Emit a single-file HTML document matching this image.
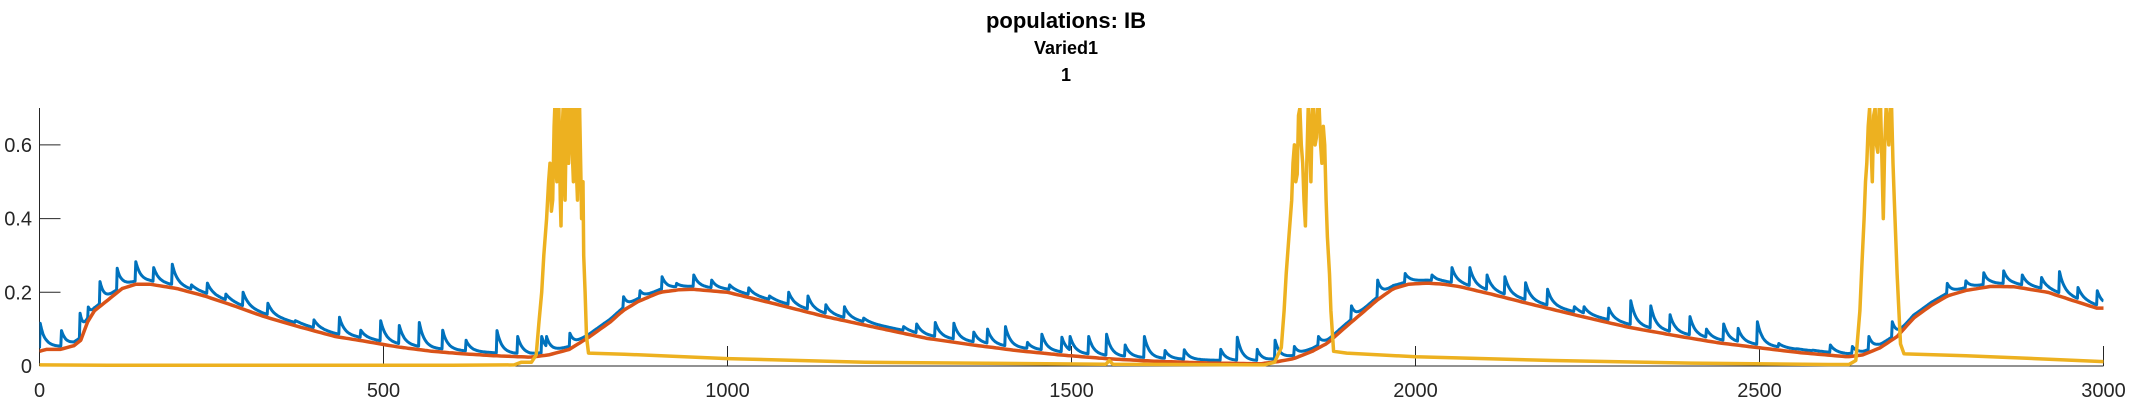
<!DOCTYPE html>
<html><head><meta charset="utf-8"><style>
html,body{margin:0;padding:0;background:#fff;}
svg{display:block;font-family:"Liberation Sans",sans-serif;}
</style></head><body>
<svg id="chart" width="2133" height="400" viewBox="0 0 2133 400">
<defs><clipPath id="plotClip"><rect x="39.5" y="108" width="2064" height="260"/></clipPath></defs>
<text x="1066" y="28" text-anchor="middle" font-size="22" font-weight="bold" fill="#000">populations: IB</text>
<text x="1066" y="54" text-anchor="middle" font-size="18" font-weight="bold" fill="#000">Varied1</text>
<text x="1066" y="81" text-anchor="middle" font-size="18" font-weight="bold" fill="#000">1</text>
<g id="axes"></g>
<g id="series" clip-path="url(#plotClip)"></g>
</svg>
<script>
const xTicks = [0, 500, 1000, 1500, 2000, 2500, 3000];
const xTickLabels = ["0", "500", "1000", "1500", "2000", "2500", "3000"];
const yTicks = [0, 0.2, 0.4, 0.6];
const yTickLabels = ["0", "0.2", "0.4", "0.6"];

const orangeT = [0,10,30,50,60,70,80,100,120,140,160,200,240,280,325,380,430,470,520,570,616,660,713,740,770,800,830,848,870,902,930,950,1000,1066,1140,1212,1290,1357,1420,1484,1550,1620,1700,1775,1800,1823,1850,1872,1895,1920,1945,1968,1990,2017,2040,2065,2110,2163,2240,2310,2385,2440,2497,2560,2628,2650,2676,2700,2724,2750,2773,2800,2836,2870,2919,2960,2990];
const orangeV = [0.04,0.045,0.045,0.055,0.07,0.12,0.15,0.18,0.21,0.222,0.222,0.21,0.19,0.165,0.135,0.105,0.08,0.068,0.052,0.04,0.033,0.028,0.024,0.03,0.045,0.08,0.12,0.15,0.175,0.2,0.207,0.208,0.2,0.17,0.135,0.106,0.075,0.057,0.042,0.03,0.02,0.013,0.008,0.006,0.012,0.02,0.04,0.062,0.1,0.14,0.18,0.21,0.222,0.225,0.222,0.215,0.195,0.17,0.135,0.105,0.08,0.063,0.05,0.036,0.025,0.03,0.05,0.08,0.13,0.165,0.19,0.205,0.216,0.215,0.2,0.175,0.157];

const spikeT = [1,32,59,71,88,113,140,166,193,221,244,271,296,332,372,399,436,467,496,523,552,586,620,665,695,730,737,771,849,873,905,926,951,977,1003,1031,1061,1089,1117,1143,1170,1198,1256,1275,1302,1329,1358,1378,1404,1436,1457,1486,1498,1525,1551,1578,1606,1636,1664,1717,1741,1770,1796,1824,1859,1907,1945,1985,2024,2053,2079,2104,2130,2160,2192,2231,2245,2281,2313,2342,2370,2399,2423,2448,2469,2497,2528,2554,2577,2603,2635,2659,2693,2773,2800,2826,2855,2882,2910,2936,2963,2991];
const spikePeak = [0.116,0.096,0.143,0.16,0.229,0.265,0.283,0.267,0.276,0.22,0.225,0.195,0.2,0.17,0.123,0.125,0.132,0.097,0.123,0.11,0.118,0.097,0.07,0.096,0.08,0.08,0.08,0.089,0.188,0.204,0.242,0.224,0.247,0.233,0.22,0.212,0.19,0.2,0.19,0.166,0.161,0.13,0.107,0.114,0.118,0.116,0.092,0.1,0.107,0.064,0.086,0.078,0.08,0.08,0.086,0.057,0.08,0.042,0.044,0.045,0.078,0.045,0.07,0.053,0.08,0.163,0.233,0.251,0.247,0.267,0.267,0.247,0.242,0.226,0.208,0.161,0.161,0.157,0.177,0.163,0.139,0.134,0.1,0.114,0.102,0.12,0.061,0.047,0.043,0.057,0.053,0.08,0.12,0.224,0.231,0.253,0.258,0.247,0.24,0.256,0.213,0.204];

const yellowT = [0,100,600,690,700,715,722,726,730,733,737,740,742,744,746,748,749,750,752,754,755,757,758,760,761,763,764,766,767,769,770,772,773,775,776,778,779,781,782,784,785,787,788,790,791,793,795,798,850,1000,1200,1400,1550,1555,1560,1780,1795,1805,1809,1812,1816,1820,1822,1824,1826,1828,1830,1832,1834,1836,1838,1840,1842,1844,1846,1848,1850,1852,1854,1856,1858,1860,1862,1864,1866,1868,1870,1872,1875,1877,1881,1900,2000,2200,2400,2600,2630,2640,2646,2649,2652,2654,2656,2658,2660,2662,2664,2666,2668,2670,2672,2674,2676,2678,2680,2682,2684,2686,2688,2690,2692,2694,2696,2698,2700,2705,2710,2800,2900,3000];
const yellowV = [0.003,0.002,0.002,0.003,0.01,0.01,0.03,0.12,0.2,0.3,0.4,0.5,0.55,0.42,0.45,0.65,0.7,0.55,0.5,0.7,0.7,0.45,0.38,0.65,0.7,0.5,0.45,0.7,0.7,0.55,0.6,0.7,0.7,0.55,0.5,0.7,0.7,0.5,0.45,0.7,0.7,0.5,0.4,0.5,0.3,0.2,0.08,0.035,0.032,0.02,0.01,0.007,0.005,0.015,0.005,0.003,0.01,0.05,0.15,0.25,0.35,0.45,0.55,0.6,0.5,0.52,0.68,0.7,0.6,0.55,0.45,0.38,0.55,0.7,0.65,0.5,0.7,0.7,0.6,0.62,0.7,0.7,0.6,0.55,0.65,0.6,0.45,0.35,0.25,0.15,0.04,0.035,0.025,0.015,0.008,0.004,0.004,0.015,0.15,0.28,0.4,0.5,0.55,0.65,0.7,0.6,0.5,0.68,0.7,0.6,0.58,0.7,0.7,0.55,0.4,0.6,0.7,0.65,0.6,0.7,0.7,0.55,0.45,0.35,0.25,0.06,0.033,0.028,0.02,0.012];

const NS = "http://www.w3.org/2000/svg";
const X0 = 39.5, X1 = 2103.5, Y0 = 366, YMAX = 0.7, YTOP = 108;
function xs(t){ return X0 + (t/3000)*(X1-X0); }
function ys(v){ return Y0 - (v/YMAX)*(Y0-YTOP); }
function interp(T, V, t){
  if (t <= T[0]) return V[0];
  for (let i=1;i<T.length;i++){ if (t <= T[i]) { const f=(t-T[i-1])/(T[i]-T[i-1]); return V[i-1]+f*(V[i]-V[i-1]); } }
  return V[V.length-1];
}
const axes = document.getElementById('axes');
const series = document.getElementById('series');
function mk(tag, attrs, parent){ const e=document.createElementNS(NS,tag); for(const k in attrs) e.setAttribute(k,attrs[k]); parent.appendChild(e); return e; }

let yl = mk('line',{x1:X0,y1:YTOP,x2:X0,y2:Y0,stroke:'#262626','stroke-width':1},axes);


let xl = mk('line',{x1:X0,y1:Y0,x2:X1,y2:Y0,stroke:'#262626','stroke-width':1},axes);


xTicks.forEach((t,i)=>{
  const tk = mk('line',{x1:xs(t),y1:Y0,x2:xs(t),y2:Y0-20,stroke:'#262626','stroke-width':1},axes);
  
  
  const lb = mk('text',{x:xs(t),y:397,'text-anchor':'middle','font-size':20,fill:'#262626'},axes);
  lb.textContent = xTickLabels[i];
  
  
});
yTicks.forEach((v,i)=>{
  const tk = mk('line',{x1:X0,y1:ys(v),x2:X0+21,y2:ys(v),stroke:'#262626','stroke-width':1},axes);
  
  
  const lb = mk('text',{x:32,y:ys(v)+7,'text-anchor':'end','font-size':20,fill:'#262626'},axes);
  lb.textContent = yTickLabels[i];
  
  
});

let bluePts = [];
for (let t=0; t<=3000; t+=1){
  const base = interp(orangeT, orangeV, t) + 0.008;
  let v = base;
  for (let i=0;i<spikeT.length;i++){
    const d = t - spikeT[i];
    if (d >= 0 && d < 60){ const s = base + (spikePeak[i]-base)*Math.exp(-d/7); if (s > v) v = s; }
  }
  bluePts.push(xs(t).toFixed(1)+','+ys(v).toFixed(1));
}
const blue = mk('polyline',{points:bluePts.join(' '),fill:'none',stroke:'#0072BD','stroke-width':3,'stroke-linejoin':'round'},series);



let orPts = [];
for (let t=0; t<=3000; t+=5){ orPts.push(xs(t).toFixed(1)+','+ys(interp(orangeT,orangeV,t)).toFixed(1)); }
const orange = mk('polyline',{points:orPts.join(' '),fill:'none',stroke:'#D95319','stroke-width':3.5,'stroke-linejoin':'round'},series);



const yPts = yellowT.map((t,i)=>xs(t).toFixed(1)+','+ys(yellowV[i]).toFixed(1));
const yellow = mk('polyline',{points:yPts.join(' '),fill:'none',stroke:'#EDB120','stroke-width':3.5,'stroke-linejoin':'round'},series);


</script>
</body></html>
